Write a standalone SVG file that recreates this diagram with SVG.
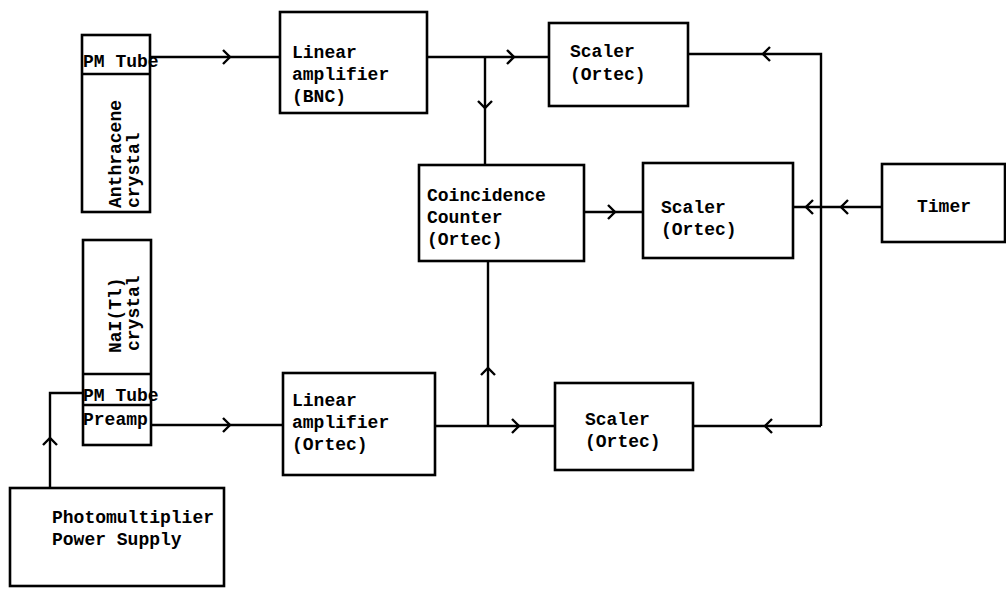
<svg xmlns="http://www.w3.org/2000/svg" width="1006" height="589" viewBox="0 0 1006 589">
<style>
.box{fill:none;stroke:#000;stroke-width:2.6}
.ln{fill:none;stroke:#000;stroke-width:2.4}
.ch{fill:none;stroke:#000;stroke-width:2.4;stroke-linejoin:miter}
text{font-family:"Liberation Mono","DejaVu Sans Mono",monospace;font-size:18px;fill:#000;font-weight:bold}
</style>
<defs>
<path id="chev" d="M-7,-7 L0,0 L-7,7"/>
</defs>
<rect width="1006" height="589" fill="#fff"/>
<g id="connectors">
<path class="ln" d="M150,57 H280"/>
<path class="ln" d="M427,57 H549"/>
<path class="ln" d="M485,57 V165"/>
<path class="ln" d="M688,54 H821 V426"/>
<path class="ln" d="M584,212 H643"/>
<path class="ln" d="M882,207 H793"/>
<path class="ln" d="M488,261 V426"/>
<path class="ln" d="M435,426 H555"/>
<path class="ln" d="M693,426 H821"/>
<path class="ln" d="M151,425 H283"/>
<path class="ln" d="M50,488 V393 H83"/>
<use href="#chev" class="ch" transform="translate(230,57)"/>
<use href="#chev" class="ch" transform="translate(514,57)"/>
<use href="#chev" class="ch" transform="translate(485,108) rotate(90)"/>
<use href="#chev" class="ch" transform="translate(763,54) rotate(180)"/>
<use href="#chev" class="ch" transform="translate(615,212)"/>
<use href="#chev" class="ch" transform="translate(841,207) rotate(180)"/>
<use href="#chev" class="ch" transform="translate(806,207) rotate(180)"/>
<use href="#chev" class="ch" transform="translate(488,368) rotate(-90)"/>
<use href="#chev" class="ch" transform="translate(519,426)"/>
<use href="#chev" class="ch" transform="translate(765,426) rotate(180)"/>
<use href="#chev" class="ch" transform="translate(230,425)"/>
<use href="#chev" class="ch" transform="translate(50,438) rotate(-90)"/>
</g>
<g id="anthracene">
<rect class="box" x="82" y="35" width="68" height="177"/>
<path class="ln" d="M82,74 H150"/>
<text x="83" y="67">PM Tube</text>
<text transform="translate(121,208) rotate(-90)">Anthracene</text>
<text transform="translate(139,208) rotate(-90)">crystal</text>
</g>
<g id="nai">
<rect class="box" x="83" y="240" width="68" height="205"/>
<path class="ln" d="M83,374 H151"/>
<path class="ln" d="M83,405 H151"/>
<text x="83" y="401">PM Tube</text>
<text x="83" y="425">Preamp</text>
<text transform="translate(121,353) rotate(-90)">NaI(Tl)</text>
<text transform="translate(139,351) rotate(-90)">crystal</text>
</g>
<g id="linamp-bnc">
<rect class="box" x="280" y="12" width="147" height="101"/>
<text x="292" y="58">Linear</text>
<text x="292" y="80">amplifier</text>
<text x="292" y="102">(BNC)</text>
</g>
<g id="scaler-top">
<rect class="box" x="549" y="23" width="139" height="83"/>
<text x="570" y="57">Scaler</text>
<text x="570" y="80">(Ortec)</text>
</g>
<g id="coincidence">
<rect class="box" x="419" y="165" width="165" height="96"/>
<text x="427" y="201">Coincidence</text>
<text x="427" y="223">Counter</text>
<text x="427" y="245">(Ortec)</text>
</g>
<g id="scaler-mid">
<rect class="box" x="643" y="163" width="150" height="95"/>
<text x="661" y="213">Scaler</text>
<text x="661" y="235">(Ortec)</text>
</g>
<g id="timer">
<rect class="box" x="882" y="164" width="123" height="78"/>
<text x="917" y="212">Timer</text>
</g>
<g id="linamp-ortec">
<rect class="box" x="283" y="373" width="152" height="102"/>
<text x="292" y="406">Linear</text>
<text x="292" y="428">amplifier</text>
<text x="292" y="450">(Ortec)</text>
</g>
<g id="scaler-bot">
<rect class="box" x="555" y="383" width="138" height="87"/>
<text x="585" y="425">Scaler</text>
<text x="585" y="447">(Ortec)</text>
</g>
<g id="power-supply">
<rect class="box" x="10" y="488" width="214" height="98"/>
<text x="52" y="523">Photomultiplier</text>
<text x="52" y="545">Power Supply</text>
</g>
</svg>
